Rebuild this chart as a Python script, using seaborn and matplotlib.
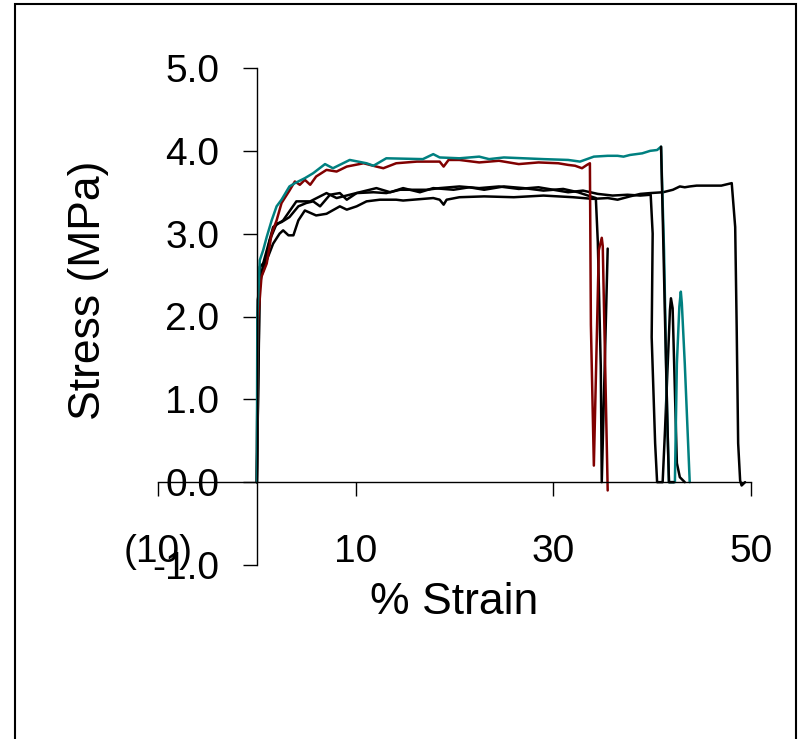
import matplotlib
matplotlib.use("Agg")
import matplotlib.pyplot as plt
import seaborn as sns
from matplotlib.patches import Rectangle

# --- data (strain %, stress MPa) ---
red_x = [0, 0.05, 0.13, 0.47, 1.0, 1.5, 2.0, 2.5, 3.3, 3.85, 4.35, 4.86, 5.4, 6.0, 7.05, 8.07, 9.1,
         10.8, 12.1, 12.8, 14.1, 16.2, 18.5, 18.9, 19.4, 20.5, 22.5, 24.5, 26.5, 28.5, 30.5, 31.5,
         32.2, 32.9, 33.4, 33.7, 33.8, 34.1, 34.6, 34.9, 35.0, 35.5]
red_y = [0, 1.0, 1.96, 2.48, 2.64, 3.0, 3.16, 3.37, 3.52, 3.63, 3.59, 3.65, 3.59, 3.69, 3.77, 3.75, 3.81,
         3.85, 3.81, 3.79, 3.85, 3.87, 3.87, 3.81, 3.89, 3.89, 3.86, 3.88, 3.84, 3.86, 3.85, 3.83,
         3.82, 3.79, 3.83, 3.85, 1.9, 0.2, 2.8, 2.95, 2.85, -0.1]

teal_x = [0, 0.05, 0.3, 0.64, 1.0, 1.5, 2.0, 2.5, 3.3, 3.85, 4.86, 5.7, 6.9, 7.7, 9.4, 11.1, 11.8,
          13.1, 16.8, 17.85, 18.5, 20.5, 22.5, 23.5, 25, 27, 29, 31.5, 32.7, 33.4, 34.1, 35.5, 36.5,
          37.1, 37.75, 39.0, 39.8, 40.5, 40.9, 41.2, 41.5, 41.7, 42.3, 42.5, 42.75, 42.9, 43.0, 43.3,
          43.65, 43.8]
teal_y = [0, 2.0, 2.68, 2.8, 2.96, 3.16, 3.33, 3.41, 3.57, 3.61, 3.67, 3.73, 3.84, 3.79, 3.89, 3.85, 3.82,
          3.91, 3.9, 3.96, 3.92, 3.91, 3.93, 3.90, 3.92, 3.91, 3.90, 3.89, 3.87, 3.9, 3.93, 3.94, 3.94,
          3.93, 3.95, 3.97, 4.0, 4.01, 4.05, 2.8, 0.9, 0.0, 0.0, 1.43, 2.12, 2.3, 2.16, 1.43,
          0.43, 0.0]

blk_a_x = [0, 0.1, 0.64, 1.65, 2.66, 4.0, 5.4, 7.05, 8.07, 9.4, 10.4, 12.1, 13.5, 14.8, 16.5, 17.85,
           19.9, 21.5, 23, 25, 27, 29, 31, 32.5, 33.5, 34.3, 34.5, 34.8, 34.9, 35.5]
blk_a_y = [0, 2.2, 2.64, 3.08, 3.16, 3.39, 3.39, 3.49, 3.43, 3.47, 3.5, 3.55, 3.5, 3.55, 3.5, 3.55,
           3.53, 3.56, 3.53, 3.57, 3.55, 3.52, 3.54, 3.5, 3.46, 3.43, 2.9, 1.4, 0.0, 2.82]

blk_b_x = [0, 0.3, 0.8, 1.3, 2.0, 2.5, 3.3, 4.2, 5.0, 5.7, 6.4, 7.4, 8.4, 9.1, 10.1, 11.8, 13.1, 14.5,
           17.2, 18.5, 20.5, 22.5, 24.5, 26.5, 28.5, 30, 31.5, 33, 34.5, 36, 37.5, 38.8, 39.85, 40.05,
           39.95, 40.3, 40.5, 41.06, 41.3, 41.8, 41.9, 42.07, 42.5, 42.8, 43.3]
blk_b_y = [0, 2.44, 2.6, 2.92, 3.12, 3.14, 3.2, 3.33, 3.37, 3.39, 3.33, 3.47, 3.49, 3.41, 3.49, 3.5, 3.49, 3.53,
           3.53, 3.55, 3.57, 3.55, 3.57, 3.54, 3.56, 3.53, 3.5, 3.52, 3.48, 3.46, 3.47, 3.46, 3.47, 3.0,
           1.75, 0.47, 0.0, 0.0, 0.63, 2.08, 2.22, 2.1, 0.23, 0.06, 0.0]

blk_c_x = [40.9, 41.1, 41.4, 41.6, 41.7, 42.2]
blk_c_y = [4.05, 3.04, 1.43, 0.43, 0.0, 0.0]

blk_d_x = [0, 0.3, 1.0, 1.65, 2.3, 2.66, 3.2, 3.7, 4.2, 4.86, 6.0, 7.05, 8.4, 9.1, 10.1, 11.1, 12.45,
           14.1, 14.8, 17.85, 18.5, 18.9, 19.2, 20.5, 23, 26, 29, 32, 34, 35.5, 36.5, 37.75, 38.8,
           39.8, 41.1, 42.1, 42.8, 43.3, 43.8, 44.5, 45.85, 47, 48.05, 48.4, 48.55, 48.7, 48.9, 49.05, 49.4]
blk_d_y = [0, 2.6, 2.68, 2.88, 3.0, 3.04, 2.98, 2.98, 3.16, 3.28, 3.22, 3.24, 3.33, 3.29, 3.33, 3.39, 3.41,
           3.41, 3.4, 3.43, 3.41, 3.35, 3.41, 3.44, 3.45, 3.44, 3.46, 3.44, 3.42, 3.43, 3.41, 3.45, 3.48,
           3.49, 3.5, 3.53, 3.57, 3.56, 3.57, 3.58, 3.58, 3.58, 3.61, 3.08, 1.88, 0.47, 0.02, -0.04, 0.0]

x_ticks = [-10, 10, 30, 50]
x_tick_labels = ["(10)", "10", "30", "50"]
y_ticks = [-1, 0, 1, 2, 3, 4, 5]
y_tick_labels = ["-1.0", "0.0", "1.0", "2.0", "3.0", "4.0", "5.0"]

sns.set_style("ticks")
plt.rcParams["font.family"] = ["Liberation Sans", "DejaVu Sans"]
plt.rcParams["text.color"] = "black"
plt.rcParams["axes.labelcolor"] = "black"
plt.rcParams["xtick.color"] = "black"
plt.rcParams["ytick.color"] = "black"

fig = plt.figure(figsize=(8, 7.39), dpi=100)
ax = fig.add_axes([158 / 800, 174 / 739, 593 / 800, 497 / 739])

# curves, in drawing order
series = [
    (blk_d_x, blk_d_y, "black"),
    (blk_a_x, blk_a_y, "black"),
    (blk_b_x, blk_b_y, "black"),
    (red_x, red_y, "#800000"),
    (teal_x, teal_y, "#008080"),
    (blk_c_x, blk_c_y, "black"),
]
for xs, ys, col in series:
    sns.lineplot(x=xs, y=ys, sort=False, estimator=None, color=col, lw=1.8, ax=ax)

ax.set_xlim(-10, 50)
ax.set_ylim(-1, 5)

# excel style axes crossing at zero
for s in ["top", "right"]:
    ax.spines[s].set_visible(False)
ax.spines["left"].set_position(("data", 0))
ax.spines["bottom"].set_position(("data", 0))
for s in ["left", "bottom"]:
    ax.spines[s].set_color("black")
    ax.spines[s].set_linewidth(1)

ax.set_xticks(x_ticks)
ax.set_xticklabels(x_tick_labels)
ax.set_yticks(y_ticks)
ax.set_yticklabels(y_tick_labels)
ax.tick_params(axis="both", direction="out", length=10, width=1, colors="black", labelsize=28,
               bottom=True, left=True)
ax.tick_params(axis="x", pad=27)
ax.tick_params(axis="y", pad=17)

ax.set_xlabel("% Strain", fontsize=32)
ax.set_ylabel("Stress (MPa)", fontsize=32)
ax.xaxis.label.set_va("center")
ax.yaxis.label.set_va("center")
ax.xaxis.set_label_coords(0.5, -0.0745)
ax.yaxis.set_label_coords(-0.118, 0.553)

# chart-area frame
fig.patches.append(Rectangle((15 / 800, -0.05), 781 / 800, 1.0 - 4 / 739 + 0.05,
                             transform=fig.transFigure, fill=False, edgecolor="black", lw=1.5))

fig.savefig("out.png", dpi=100)
